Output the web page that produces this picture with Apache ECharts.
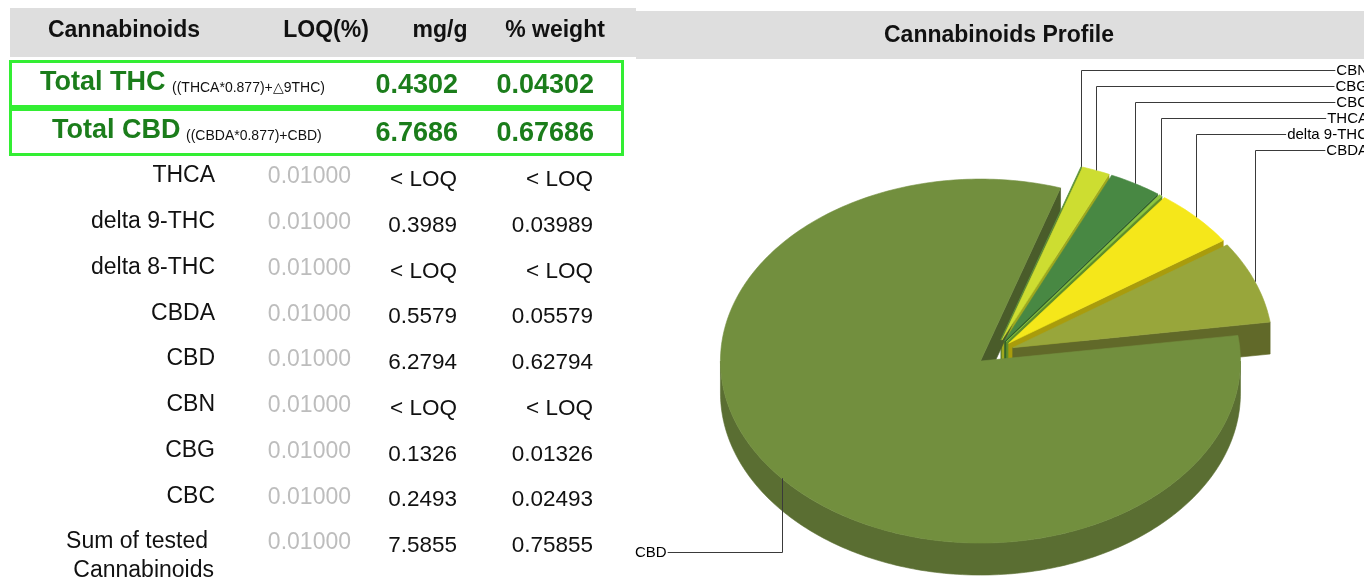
<!DOCTYPE html>
<html><head><meta charset="utf-8">
<script src="https://cdn.jsdelivr.net/npm/echarts@6/dist/echarts.min.js"></script>
<style>html,body{margin:0;padding:0;background:#fff}#c{width:1364px;height:578px}</style>
</head><body><div id="c"></div>
<script>
// ---------- data ----------
const tableHeaders = ['Cannabinoids', 'LOQ(%)', 'mg/g', '% weight'];
const totalNames = ['Total THC', 'Total CBD'];
const totalFormulas = ['((THCA*0.877)+\u25B39THC)', '((CBDA*0.877)+CBD)'];
const totalMg = ['0.4302', '6.7686'];
const totalPct = ['0.04302', '0.67686'];
const rowNames = ['THCA', 'delta 9-THC', 'delta 8-THC', 'CBDA', 'CBD', 'CBN', 'CBG', 'CBC', 'Sum of tested\nCannabinoids'];
const rowLoq = ['0.01000', '0.01000', '0.01000', '0.01000', '0.01000', '0.01000', '0.01000', '0.01000', '0.01000'];
const rowMg = ['< LOQ', '0.3989', '< LOQ', '0.5579', '6.2794', '< LOQ', '0.1326', '0.2493', '7.5855'];
const rowPct = ['< LOQ', '0.03989', '< LOQ', '0.05579', '0.62794', '< LOQ', '0.01326', '0.02493', '0.75855'];
const chartTitle = 'Cannabinoids Profile';
const pieNames = ['CBD', 'CBN', 'CBG', 'CBC', 'THCA', 'delta 9-THC', 'CBDA'];
const pieValues = [6.2794, 0.003, 0.1326, 0.2493, 0.015, 0.3989, 0.5579];

// ---------- styles ----------
const topColors  = ['#728f3e', '#5f9a3a', '#cddd31', '#488843', '#8dc63f', '#f5e71a', '#98a63b'];
const sideColors = ['#5a6e32', '#3f6a28', '#9ea81f', '#2f5e2c', '#5f8f2a', '#a99c0c', '#616929'];
const cutColors  = ['#4a5c2a', '#3f6a28', '#9ea81f', '#2f5e2c', '#5f8f2a', '#a99c0c', '#616929'];
const FF = '"Liberation Sans", Arial, sans-serif';
const GREEN = '#1b7d1b';

// ---------- pie geometry ----------
const RX = 260, RY = 182, K = RY / RX, H = 32, C0 = [995, 352.5], D = 19, START = 8.1;
const rad = d => d * Math.PI / 180;
const total = pieValues.reduce((a, b) => a + b, 0);
const slices = [];
(function () {
  let cum = rad(START);
  pieValues.forEach((v, i) => {
    const ang = v / total * Math.PI * 2;
    const a1 = cum, a0 = cum - ang;
    cum = a0;
    slices.push({ a0, a1, m: (a0 + a1) / 2 });
  });
  const norm = a => ((a % (2 * Math.PI)) + 2 * Math.PI) % (2 * Math.PI);
  const upper = slices.map((s, i) => ({ i, m: norm(s.m) })).filter(o => o.m > 0 && o.m < Math.PI)
    .sort((a, b) => b.m - a.m);
  upper.forEach((o, r) => { slices[o.i].rank = r; slices[o.i].upper = true; });
})();

function renderItem(params, api) {
  const i = params.dataIndex;
  const s = slices[i];
  const cx = C0[0] + D * Math.cos(s.m), cy = C0[1] - D * K * Math.sin(s.m);
  const P = (a, dy) => [cx + RX * Math.cos(a), cy - RY * Math.sin(a) + (dy || 0)];
  const arc = (lo, hi, dy) => {
    const n = Math.max(2, Math.ceil((hi - lo) / rad(1)));
    const pts = [];
    for (let k = 0; k <= n; k++) pts.push(P(lo + (hi - lo) * k / n, dy));
    return pts;
  };
  const ch = [];
  ch.push({ type: 'polygon', z2: 100, shape: { points: [[cx, cy]].concat(arc(s.a0, s.a1, 0)) },
    style: { fill: topColors[i], stroke: topColors[i], lineWidth: 0.6 } });
  for (let k = -2; k <= 1; k++) {
    const lo = Math.max(s.a0, rad(-180 + 360 * k)), hi = Math.min(s.a1, rad(360 * k));
    if (hi > lo) {
      const pts = arc(lo, hi, 0).concat(arc(lo, hi, H).reverse());
      const avgY = pts.reduce((a, p) => a + p[1], 0) / pts.length;
      ch.push({ type: 'polygon', z2: 10 + avgY / 20, shape: { points: pts },
        style: { fill: sideColors[i], stroke: sideColors[i], lineWidth: 0.6 } });
    }
  }
  const face = a => {
    const e = P(a, 0);
    const pts = [[cx, cy], e, [e[0], e[1] + H], [cx, cy + H]];
    const avgY = (cy + e[1]) / 2 + H / 2;
    ch.push({ type: 'polygon', z2: 10 + avgY / 20, shape: { points: pts },
      style: { fill: cutColors[i], stroke: cutColors[i], lineWidth: 0.6 } });
  };
  if (Math.cos(s.a0) > 0) face(s.a0);
  if (Math.cos(s.a1) < 0) face(s.a1);
  const an = P(s.m, 0);
  const lx = Math.round(an[0]) + 0.5;
  const lineStyle = { stroke: '#3a3a3a', lineWidth: 1, fill: null };
  const lblFont = '15px ' + FF;
  if (s.upper) {
    const ly = 70 + 16 * s.rank + 0.5;
    ch.push({ type: 'polyline', z2: 200, shape: { points: [[lx, an[1]], [lx, ly], [1366, ly]] }, style: lineStyle });
    ch.push({ type: 'text', z2: 210, x: 1368, y: ly + 0.5,
      style: { text: pieNames[i], font: lblFont, fill: '#000',
        align: 'right', verticalAlign: 'middle', backgroundColor: '#fff', padding: [0, 0, 0, 1] } });
  } else {
    const ly = 552.5;
    ch.push({ type: 'polyline', z2: 200, shape: { points: [[lx, an[1]], [lx, ly], [645, ly]] }, style: lineStyle });
    ch.push({ type: 'text', z2: 210, x: 635, y: ly + 0.5,
      style: { text: pieNames[i], font: lblFont, fill: '#000', align: 'left', verticalAlign: 'middle',
        backgroundColor: '#fff', padding: [0, 1, 0, 0] } });
  }
  return { type: 'group', children: ch };
}

// ---------- table (graphic) ----------
const T = (text, x, y, font, fill, align) => ({ type: 'text', x, y,
  style: { text, font, fill, align: align || 'right', verticalAlign: 'middle' } });
const g = [];
g.push({ type: 'rect', shape: { x: 10, y: 8, width: 626, height: 49 }, style: { fill: '#dedede' } });
g.push({ type: 'rect', shape: { x: 636, y: 11, width: 728, height: 48 }, style: { fill: '#dedede' } });
const hdrFont = 'bold 23px ' + FF;
const hdrX = [124, 326, 440, 555];
tableHeaders.forEach((h, k) => g.push(T(h, hdrX[k], 31, hdrFont, '#111', 'center')));
g.push(T(chartTitle, 999, 36, hdrFont, '#111', 'center'));
const boxY = [61.5, 109.5];
boxY.forEach(y => g.push({ type: 'rect', shape: { x: 10.5, y, width: 612, height: 45 },
  style: { fill: null, stroke: '#33ee33', lineWidth: 3 } }));
const totNameX = [40, 52], totFormX = [172, 186], totY = [83, 131];
const bigFont = 'bold 27px ' + FF;
totalNames.forEach((n, k) => {
  g.push(T(n, totNameX[k], totY[k], bigFont, GREEN, 'left'));
  g.push(T(totalFormulas[k], totFormX[k], totY[k] + 5, '14px ' + FF, '#111', 'left'));
  g.push(T(totalMg[k], 458, totY[k] + 3, bigFont, GREEN, 'right'));
  g.push(T(totalPct[k], 594, totY[k] + 3, bigFont, GREEN, 'right'));
});
const rowFont = '23px ' + FF, valFont = '22.5px ' + FF;
const pitch = 45.75;
rowNames.forEach((n, k) => {
  const y0 = 176 + pitch * k;
  const parts = n.split('\n');
  if (parts.length === 1) g.push(T(n, 215, y0, rowFont, '#111', 'right'));
  else {
    g.push(T(parts[0], 208, y0, rowFont, '#111', 'right'));
    g.push(T(parts[1], 214, y0 + 29, rowFont, '#111', 'right'));
  }
  g.push(T(rowLoq[k], 351, y0 + 1, rowFont, '#bdbdbd', 'right'));
  g.push(T(rowMg[k], 457, y0 + 4, valFont, '#111', 'right'));
  g.push(T(rowPct[k], 593, y0 + 4, valFont, '#111', 'right'));
});

const chart = echarts.init(document.getElementById('c'), null, { renderer: 'canvas' });
chart.setOption({
  animation: false,
  graphic: g,
  series: [{
    type: 'custom', coordinateSystem: 'none', renderItem,
    data: pieValues.map((v, i) => ({ name: pieNames[i], value: [v, i] }))
  }]
});
</script></body></html>
